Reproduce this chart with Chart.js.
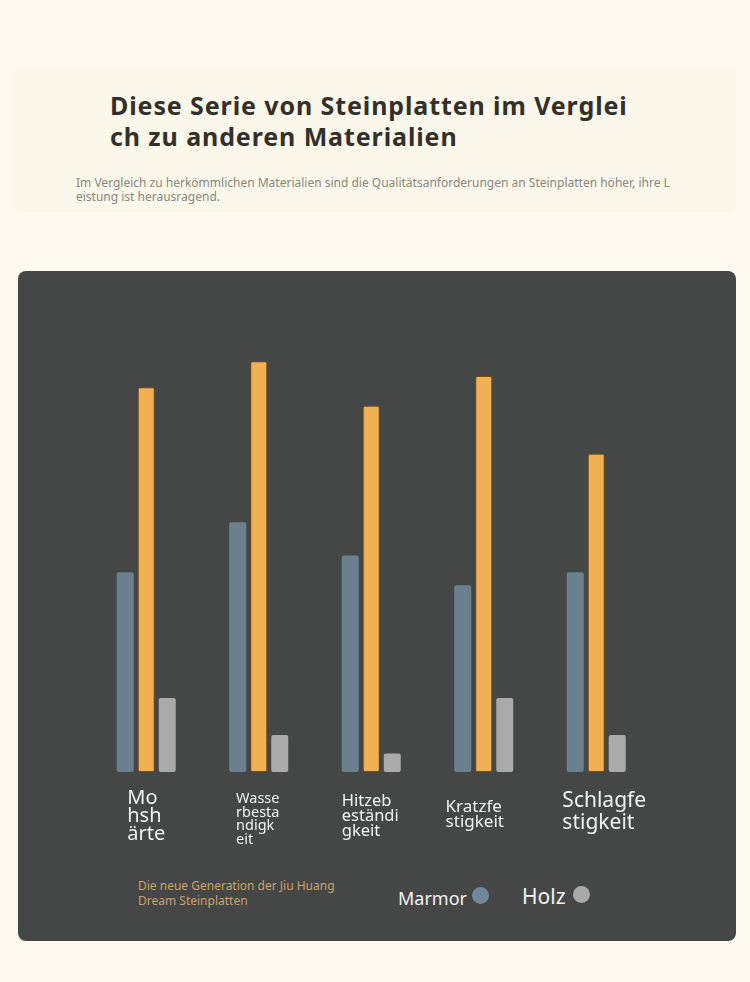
<!DOCTYPE html>
<html lang="de">
<head>
<meta charset="utf-8">
<script src="https://cdn.jsdelivr.net/npm/chart.js@4.4.1/dist/chart.umd.min.js"></script>
<style>
  body { margin: 0; width: 750px; height: 982px; background: #fdf9ee; font-family: "Noto Sans", sans-serif; position: relative; overflow: hidden; }
  .header { position: absolute; left: 14px; top: 70px; width: 722px; height: 142px; background: #fbf7ea; border-radius: 6px; }
  .title { position: absolute; left: 110px; top: 90px; font-size: 25px; letter-spacing: 0.9px; font-weight: 700; line-height: 31px; color: #33302a; margin: 0; }
  .subtitle { position: absolute; left: 76px; top: 176px; font-size: 12px; line-height: 14px; color: #8a8780; margin: 0; }
  .card { position: absolute; left: 18px; top: 271px; width: 718px; height: 670px; background: #454646; border-radius: 8px; }
  .card canvas { position: absolute; left: 0; top: 0; }
  .legend-new { position: absolute; left: 120px; top: 607px; font-size: 12px; line-height: 15px; color: #c9a36a; }
  .legend-text { position: absolute; color: #f3f3f3; line-height: 1; }
  .dot { position: absolute; width: 17px; height: 17px; border-radius: 50%; }
</style>
</head>
<body>
<div class="header"></div>
<h1 class="title">Diese Serie von Steinplatten im Verglei<br>ch zu anderen Materialien</h1>
<p class="subtitle">Im Vergleich zu herkömmlichen Materialien sind die Qualitätsanforderungen an Steinplatten höher, ihre L<br>eistung ist herausragend.</p>

<div class="card">
  <canvas id="compareChart" width="718" height="600"></canvas>
  <div class="legend-new">Die neue Generation der Jiu Huang<br>Dream Steinplatten</div>
  <span class="legend-text" style="left:380px; top:618px; font-size:18px;">Marmor</span>
  <span class="dot" style="left:454px; top:616px; background:#6f8799;"></span>
  <span class="legend-text" style="left:504px; top:615px; font-size:21px;">Holz</span>
  <span class="dot" style="left:555px; top:615px; background:#a9a9a9;"></span>
</div>

<script>
// categories (wrapped the same way as in the original)
const categories = [
    ['Mo', 'hsh', 'ärte'],
    ['Wasse', 'rbesta', 'ndigk', 'eit'],
    ['Hitzeb', 'eständi', 'gkeit'],
    ['Kratzfe', 'stigkeit'],
    ['Schlagfe', 'stigkeit']
];
const seriesNames = ['Marmor', 'Die neue Generation der Jiu Huang Dream Steinplatten', 'Holz'];
const marmorValues = [5.4, 6.75, 5.85, 5.05, 5.4];
const steinValues = [10.4, 11.1, 9.9, 10.7, 8.6];
const holzValues = [2, 1, 0.5, 2, 1];

// label look differs per category in the original
const labelFonts = [
    { size: 20, line: 18, shift: 0, top: 18 },
    { size: 14.5, line: 13.5, shift: -1, top: 21 },
    { size: 16.5, line: 15, shift: -1, top: 22 },
    { size: 17, line: 14.5, shift: -9, top: 28 },
    { size: 21, line: 22, shift: 8, top: 20 }
];

// draws the category labels as left-aligned blocks under each group
const leftLabels = {
    id: 'leftLabels',
    afterDraw(chart) {
        const xScale = chart.scales.x;
        const c = chart.ctx;
        c.save();
        c.fillStyle = '#f3f3f3';
        c.textAlign = 'left';
        c.textBaseline = 'alphabetic';
        categories.forEach((lines, i) => {
            const f = labelFonts[i];
            c.font = `${f.size}px "Noto Sans"`;
            const w = Math.max(...lines.map(l => c.measureText(l).width));
            const x = xScale.getPixelForTick(i) - w / 2 + f.shift;
            let y = chart.chartArea.bottom + f.top + f.size * 0.72;
            lines.forEach(l => {
                c.fillText(l, x, y);
                y += f.line;
            });
        });
        c.restore();
    }
};

const ctx = document.getElementById('compareChart').getContext('2d');
new Chart(ctx, {
    type: 'bar',
    data: {
        labels: categories.map(l => l.join('')),
        datasets: [
            {
                label: seriesNames[0],
                data: marmorValues,
                backgroundColor: '#6b808f',
                borderRadius: 2,
                borderSkipped: false
            },
            {
                label: seriesNames[1],
                data: steinValues,
                backgroundColor: '#f1b052',
                borderColor: '#7d4f17',
                borderWidth: 1,
                borderRadius: 2,
                borderSkipped: false
            },
            {
                label: seriesNames[2],
                data: holzValues,
                backgroundColor: '#a9aaa9',
                borderRadius: 2,
                borderSkipped: false
            }
        ]
    },
    options: {
        responsive: false,
        animation: false,
        layout: {
            padding: { left: 72, right: 83.5, top: 57, bottom: 99 }
        },
        datasets: {
            bar: {
                categoryPercentage: 0.56,
                barPercentage: 0.81
            }
        },
        scales: {
            y: {
                display: false,
                min: 0,
                max: 12
            },
            x: {
                grid: { display: false },
                border: { display: false },
                ticks: { display: false },
                afterFit: (scale) => { scale.height = 0; }
            }
        },
        plugins: {
            legend: { display: false },
            tooltip: { enabled: false }
        }
    },
    plugins: [leftLabels]
});
</script>
</body>
</html>
